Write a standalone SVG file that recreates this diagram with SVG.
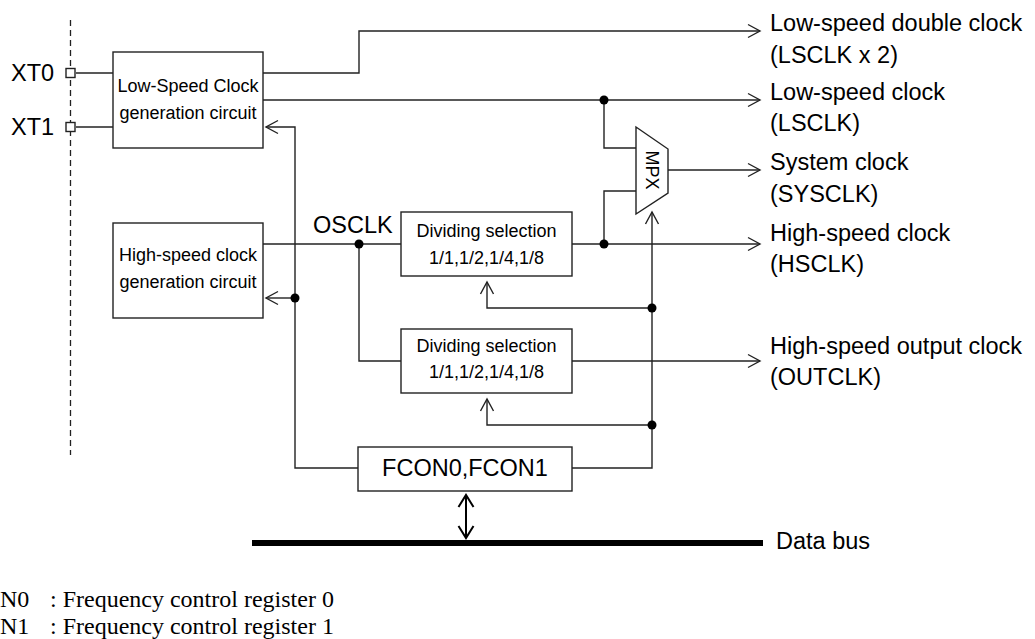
<svg xmlns="http://www.w3.org/2000/svg" width="1035" height="639" viewBox="0 0 1035 639">
<style>
.w{fill:none;stroke:#222;stroke-width:1.4}
.box{fill:#fff;stroke:#222;stroke-width:1.4}
.dot{fill:#000}
.big{font-family:"Liberation Sans",Arial,sans-serif;font-size:23.5px;fill:#000}
.sm{font-family:"Liberation Sans",Arial,sans-serif;font-size:18px;fill:#000;text-anchor:middle}
.ser{font-family:"Liberation Serif","Times New Roman",serif;font-size:24px;fill:#000}
</style>
<defs>
<marker id="a" markerUnits="userSpaceOnUse" markerWidth="16" markerHeight="16" viewBox="-14 -8 16 16" refX="0" refY="0" orient="auto-start-reverse">
<path d="M-12,-6.5 L0,0 L-12,6.5" fill="none" stroke="#222" stroke-width="1.4"/>
</marker>
<marker id="b" markerUnits="userSpaceOnUse" markerWidth="18" markerHeight="20" viewBox="-14 -10 16 20" refX="0" refY="0" orient="auto-start-reverse">
<path d="M-12,-7.5 L0,0 L-12,7.5" fill="none" stroke="#000" stroke-width="2"/>
</marker>
</defs>

<g id="boundary">
<line x1="70.5" y1="20" x2="70.5" y2="455" stroke="#222" stroke-width="1.3" stroke-dasharray="6,4"/>
</g>

<g id="connectors">
<path class="w" d="M76,73 H113"/>
<path class="w" d="M76,127 H113"/>
<path class="w" d="M263,73 H359 V31 H760" marker-end="url(#a)"/>
<path class="w" d="M263,100 H760" marker-end="url(#a)"/>
<path class="w" d="M604,100 V148 H636"/>
<path class="w" d="M668,170 H760" marker-end="url(#a)"/>
<path class="w" d="M636,191 H604 V244"/>
<path class="w" d="M263,244 H401"/>
<path class="w" d="M359,244 V361 H401"/>
<path class="w" d="M572,244 H760" marker-end="url(#a)"/>
<path class="w" d="M572,361 H760" marker-end="url(#a)"/>
<path class="w" d="M358,468 H295 V127 H266" marker-end="url(#a)"/>
<path class="w" d="M295,298 H266" marker-end="url(#a)"/>
<path class="w" d="M572,468 H652 V212" marker-end="url(#a)"/>
<path class="w" d="M652,308 H487 V282" marker-end="url(#a)"/>
<path class="w" d="M652,425 H487 V399" marker-end="url(#a)"/>
<path d="M466,495 V538" fill="none" stroke="#000" stroke-width="2" marker-start="url(#b)" marker-end="url(#b)"/>
<path d="M252,543 H763" fill="none" stroke="#000" stroke-width="6"/>
<circle class="dot" cx="604" cy="100" r="4.5"/>
<circle class="dot" cx="604" cy="244" r="4.5"/>
<circle class="dot" cx="359" cy="244" r="4.5"/>
<circle class="dot" cx="295" cy="298" r="4.5"/>
<circle class="dot" cx="652" cy="308" r="4.5"/>
<circle class="dot" cx="652" cy="425" r="4.5"/>
</g>

<g id="xt0">
<rect class="box" x="66" y="68.5" width="9" height="9"/>
<text class="big" x="11" y="81">XT0</text>
</g>
<g id="xt1">
<rect class="box" x="66" y="122.5" width="9" height="9"/>
<text class="big" x="11" y="135">XT1</text>
</g>

<g id="ls-gen">
<rect class="box" x="113" y="52" width="150" height="96"/>
<text class="sm" x="188" y="92">Low-Speed Clock</text>
<text class="sm" x="188" y="119">generation circuit</text>
</g>

<g id="hs-gen">
<rect class="box" x="113" y="223" width="150" height="95"/>
<text class="sm" x="188" y="261">High-speed clock</text>
<text class="sm" x="188" y="288">generation circuit</text>
</g>

<g id="osclk-label">
<text class="big" x="313" y="233">OSCLK</text>
</g>

<g id="div1">
<rect class="box" x="401" y="212" width="171" height="64"/>
<text class="sm" x="486.5" y="237">Dividing selection</text>
<text class="sm" x="486.5" y="264">1/1,1/2,1/4,1/8</text>
</g>

<g id="div2">
<rect class="box" x="401" y="329" width="171" height="64"/>
<text class="sm" x="486.5" y="352">Dividing selection</text>
<text class="sm" x="486.5" y="378">1/1,1/2,1/4,1/8</text>
</g>

<g id="mpx">
<polygon class="box" points="636,127 668,149 668,193 636,214"/>
<text class="sm" x="652" y="170" dy="0.35em" font-size="19" transform="rotate(90 652 170)">MPX</text>
</g>

<g id="fcon">
<rect class="box" x="358" y="447" width="214" height="44"/>
<text class="big" x="465" y="476" text-anchor="middle">FCON0,FCON1</text>
</g>

<g id="outputs">
<text class="big" x="770" y="31">Low-speed double clock</text>
<text class="big" x="770" y="63">(LSCLK x 2)</text>
<text class="big" x="770" y="100">Low-speed clock</text>
<text class="big" x="770" y="131">(LSCLK)</text>
<text class="big" x="770" y="170">System clock</text>
<text class="big" x="770" y="202">(SYSCLK)</text>
<text class="big" x="770" y="241">High-speed clock</text>
<text class="big" x="770" y="272">(HSCLK)</text>
<text class="big" x="770" y="354">High-speed output clock</text>
<text class="big" x="770" y="385">(OUTCLK)</text>
<text class="big" x="776" y="549">Data bus</text>
</g>

<g id="legend">
<text class="ser" x="0" y="607">N0</text>
<text class="ser" x="50" y="607">: Frequency control register 0</text>
<text class="ser" x="0" y="634">N1</text>
<text class="ser" x="50" y="634">: Frequency control register 1</text>
</g>
</svg>
